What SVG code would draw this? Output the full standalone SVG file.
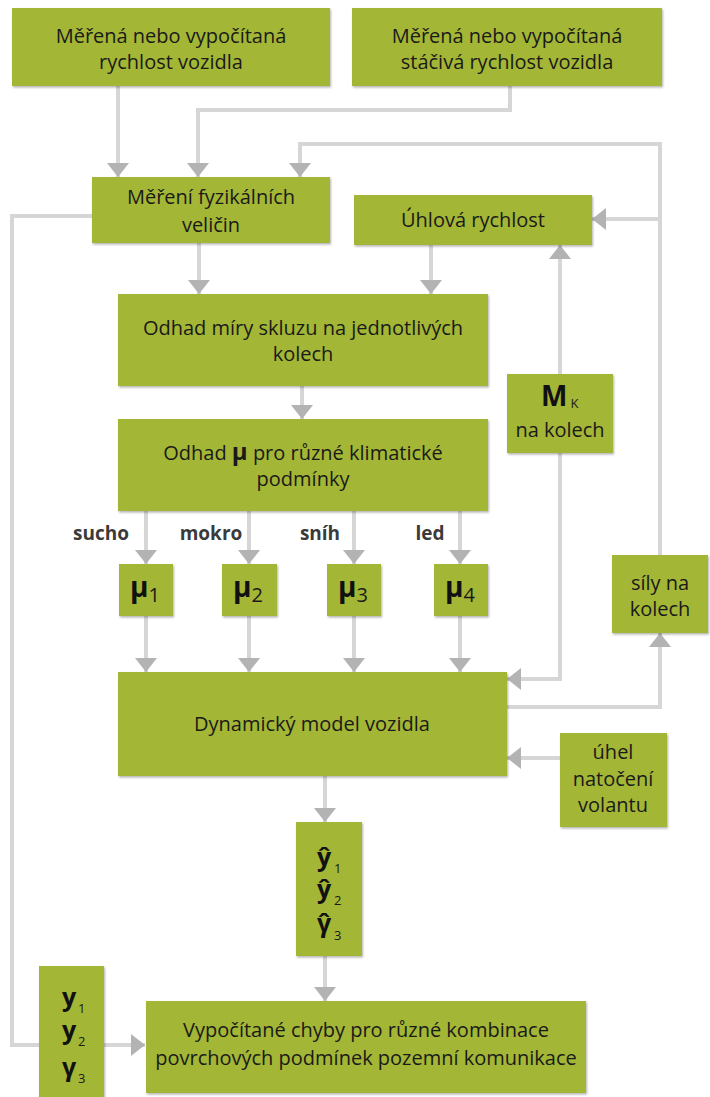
<svg xmlns="http://www.w3.org/2000/svg" width="710" height="1097" viewBox="0 0 710 1097">
<defs>
<filter id="sh" x="-10%" y="-10%" width="120%" height="130%">
<feDropShadow dx="1" dy="1.5" stdDeviation="1.2" flood-color="#000" flood-opacity="0.3"/>
</filter>
<marker id="ah" markerUnits="userSpaceOnUse" markerWidth="14" markerHeight="22" refX="14" refY="11" orient="auto">
<path d="M0,0 L14,11 L0,22 z" fill="#b3b3b3"/>
</marker>
<style>
.box{fill:#a3b634;filter:url(#sh)}
.t{font-family:"Open Sans","Liberation Sans",sans-serif;font-size:20px;fill:#1a1a1a;text-anchor:middle}
.lbl{font-family:"Open Sans","Liberation Sans",sans-serif;font-size:19px;font-weight:bold;fill:#3a3a3a;text-anchor:middle}
.b{font-weight:bold}
.mu{font-family:"Open Sans","Liberation Sans",sans-serif;font-size:28px;font-weight:bold;fill:#111}
.sub{font-family:"Open Sans","Liberation Sans",sans-serif;font-size:20px;fill:#1a1a1a}
.sv{font-family:"Open Sans","Liberation Sans",sans-serif;font-size:25px;font-weight:bold;fill:#111;text-anchor:middle}
.ss{font-family:"Open Sans","Liberation Sans",sans-serif;font-size:13px;fill:#1a1a1a}
.c{fill:none;stroke:#d6d6d6;stroke-width:4}
.a{marker-end:url(#ah)}
</style>
</defs>

<g id="connectors">
<path class="c a" d="M118,86 V177"/>
<path class="c a" d="M510,86 V110 H198 V177"/>
<path class="c a" d="M660,555 V144 H300 V177"/>
<path class="c a" d="M660,219 H592"/>
<path class="c" d="M92,216 H12 V1045 H39"/>
<path class="c a" d="M104,1045 H145"/>
<path class="c a" d="M199,243 V294"/>
<path class="c a" d="M431,245 V294"/>
<path class="c a" d="M302,386 V419"/>
<path class="c a" d="M146,511 V564"/>
<path class="c a" d="M249,511 V564"/>
<path class="c a" d="M354,511 V564"/>
<path class="c a" d="M460,511 V564"/>
<path class="c a" d="M146,616 V672"/>
<path class="c a" d="M249,616 V672"/>
<path class="c a" d="M354,616 V672"/>
<path class="c a" d="M460,616 V672"/>
<path class="c a" d="M560,374 V245"/>
<path class="c a" d="M560,453 V679 H507"/>
<path class="c a" d="M507,707 H660 V633"/>
<path class="c a" d="M560,758 H507"/>
<path class="c a" d="M325,776 V822"/>
<path class="c a" d="M325,956 V1001"/>
</g>

<g id="labels">
<text class="lbl" x="101" y="540">sucho</text>
<text class="lbl" x="211" y="540">mokro</text>
<text class="lbl" x="320" y="540">sníh</text>
<text class="lbl" x="430" y="540">led</text>
</g>

<g id="node-rychlost">
<rect class="box" x="12" y="8" width="318" height="78"/>
<text class="t" x="171" y="43">Měřená nebo vypočítaná</text>
<text class="t" x="171" y="69">rychlost vozidla</text>
</g>

<g id="node-stacivá">
<rect class="box" x="352" y="8" width="310" height="78"/>
<text class="t" x="507" y="43">Měřená nebo vypočítaná</text>
<text class="t" x="507" y="69">stáčivá rychlost vozidla</text>
</g>

<g id="node-mereni">
<rect class="box" x="92" y="177" width="238" height="66"/>
<text class="t" x="211" y="204">Měření fyzikálních</text>
<text class="t" x="211" y="232">veličin</text>
</g>

<g id="node-uhlova">
<rect class="box" x="354" y="195" width="238" height="50"/>
<text class="t" x="473" y="227">Úhlová rychlost</text>
</g>

<g id="node-skluz">
<rect class="box" x="118" y="294" width="370" height="92"/>
<text class="t" x="303" y="335">Odhad míry skluzu na jednotlivých</text>
<text class="t" x="303" y="361">kolech</text>
</g>

<g id="node-odhadmu">
<rect class="box" x="118" y="419" width="370" height="92"/>
<text class="t" x="303" y="460">Odhad <tspan class="b" font-size="24">μ</tspan> pro různé klimatické</text>
<text class="t" x="303" y="486">podmínky</text>
</g>

<g id="node-mu1">
<rect class="box" x="119" y="564" width="54" height="52"/>
<text x="130" y="597"><tspan class="mu">μ</tspan><tspan class="sub" dy="5">1</tspan></text>
</g>
<g id="node-mu2">
<rect class="box" x="222" y="564" width="55" height="52"/>
<text x="233" y="597"><tspan class="mu">μ</tspan><tspan class="sub" dy="5">2</tspan></text>
</g>
<g id="node-mu3">
<rect class="box" x="327" y="564" width="54" height="52"/>
<text x="338" y="597"><tspan class="mu">μ</tspan><tspan class="sub" dy="5">3</tspan></text>
</g>
<g id="node-mu4">
<rect class="box" x="434" y="564" width="54" height="52"/>
<text x="445" y="597"><tspan class="mu">μ</tspan><tspan class="sub" dy="5">4</tspan></text>
</g>

<g id="node-mk">
<rect class="box" x="507" y="374" width="106" height="79"/>
<text x="541" y="406"><tspan class="mu" font-size="26">M</tspan><tspan class="ss" font-size="12" dx="3" dy="2">K</tspan></text>
<text class="t" x="560" y="437">na kolech</text>
</g>

<g id="node-sily">
<rect class="box" x="612" y="555" width="96" height="78"/>
<text class="t" x="660" y="590">síly na</text>
<text class="t" x="660" y="616">kolech</text>
</g>

<g id="node-dyn">
<rect class="box" x="118" y="672" width="389" height="104"/>
<text class="t" x="312" y="731">Dynamický model vozidla</text>
</g>

<g id="node-uhel">
<rect class="box" x="560" y="733" width="107" height="94"/>
<text class="t" x="613" y="759">úhel</text>
<text class="t" x="613" y="786">natočení</text>
<text class="t" x="613" y="812">volantu</text>
</g>

<g id="node-yhat">
<rect class="box" x="296" y="822" width="66" height="134"/>
<text class="sv" x="324" y="866">ŷ</text>
<text class="ss" x="334" y="873">1</text>
<text class="sv" x="324" y="898">ŷ</text>
<text class="ss" x="334" y="905">2</text>
<text class="sv" x="324" y="932">γ̂</text>
<text class="ss" x="334" y="940">3</text>
</g>

<g id="node-y">
<rect class="box" x="39" y="966" width="65" height="131"/>
<text class="sv" x="69" y="1006">y</text>
<text class="ss" x="78" y="1013">1</text>
<text class="sv" x="69" y="1039">y</text>
<text class="ss" x="78" y="1046">2</text>
<text class="sv" x="69" y="1076">γ</text>
<text class="ss" x="78" y="1083">3</text>
</g>

<g id="node-chyby">
<rect class="box" x="146" y="1001" width="440" height="92"/>
<text class="t" x="366" y="1037">Vypočítané chyby pro různé kombinace</text>
<text class="t" x="366" y="1065">povrchových podmínek pozemní komunikace</text>
</g>
</svg>
